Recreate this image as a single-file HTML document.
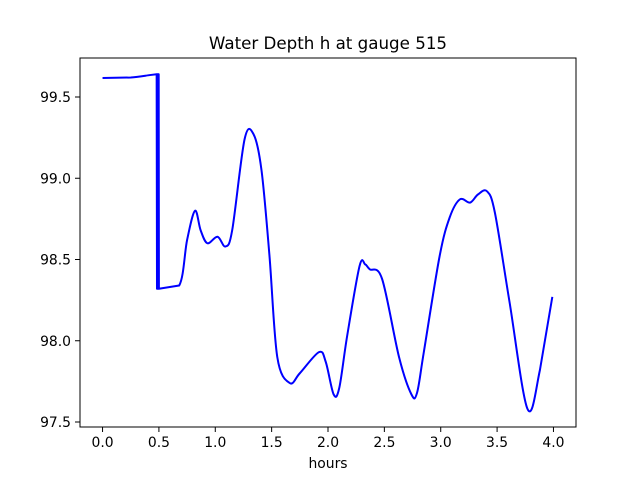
<!DOCTYPE html>
<html><head><meta charset="utf-8"><style>
body{margin:0;background:#fff}
svg{display:block;font-family:"DejaVu Sans","Liberation Sans",sans-serif}
</style></head><body>
<svg width="640" height="480" viewBox="0 0 640 480">
<rect width="640" height="480" fill="#fff"/>
<text x="328" y="49" text-anchor="middle" font-size="16.7">Water Depth h at gauge 515</text>
<g id="xt"></g>
<g id="yt"></g>
<path id="ln" fill="none" stroke="#0000ff" stroke-width="2" stroke-linejoin="round"/>
<rect x="80" y="58" width="496" height="369" fill="none" stroke="#000" stroke-width="1"/>
<text x="328" y="468" text-anchor="middle" font-size="13.9">hours</text>
</svg>
<script>
const hours=[0,0.25,0.42,0.48,0.483,0.486,0.489,0.492,0.495,0.498,0.5,0.68,0.75,0.82,0.87,0.93,1.02,1.09,1.15,1.26,1.34,1.41,1.48,1.55,1.66,1.75,1.92,1.98,2.05,2.10,2.17,2.28,2.33,2.37,2.48,2.63,2.74,2.79,2.85,2.99,3.08,3.17,3.26,3.33,3.41,3.48,3.61,3.77,3.88,3.99];
const depth=[99.617,99.62,99.635,99.64,98.32,99.64,98.32,99.64,98.32,99.64,98.32,98.34,98.62,98.80,98.68,98.60,98.64,98.58,98.68,99.24,99.27,99.05,98.53,97.90,97.74,97.80,97.93,97.87,97.67,97.71,98.03,98.46,98.47,98.44,98.38,97.90,97.67,97.68,97.93,98.52,98.76,98.87,98.85,98.90,98.92,98.79,98.24,97.58,97.82,98.27];
const xTicks=[0,0.5,1,1.5,2,2.5,3,3.5,4];
const yTicks=[97.5,98,98.5,99,99.5];
const X=v=>80+(v+0.2)/4.4*496;
const Y=v=>97+(99.5-v)*162.5;
const NS="http://www.w3.org/2000/svg";
const xt=document.getElementById('xt'),yt=document.getElementById('yt');
xTicks.forEach(t=>{
 const l=document.createElementNS(NS,'line');
 l.setAttribute('x1',X(t));l.setAttribute('x2',X(t));l.setAttribute('y1',427);l.setAttribute('y2',432);l.setAttribute('stroke','#000');
 
 
 xt.appendChild(l);
 const s=document.createElementNS(NS,'text');
 s.setAttribute('x',X(t));s.setAttribute('y',447);s.setAttribute('text-anchor','middle');s.setAttribute('font-size','13.9');
 s.textContent=t.toFixed(1);
 
 
 xt.appendChild(s);
});
yTicks.forEach(t=>{
 const l=document.createElementNS(NS,'line');
 l.setAttribute('x1',75);l.setAttribute('x2',80);l.setAttribute('y1',Y(t));l.setAttribute('y2',Y(t));l.setAttribute('stroke','#000');
 
 
 yt.appendChild(l);
 const s=document.createElementNS(NS,'text');
 s.setAttribute('x',71);s.setAttribute('y',Y(t)+5);s.setAttribute('text-anchor','end');s.setAttribute('font-size','13.9');
 s.textContent=t.toFixed(1);
 
 
 yt.appendChild(s);
});
const P=hours.map((h,i)=>[X(h),Y(depth[i])]);
let d='M'+P[0][0]+','+P[0][1];
for(let i=0;i<P.length-1;i++){
 const p0=P[Math.max(0,i-1)],p1=P[i],p2=P[i+1],p3=P[Math.min(P.length-1,i+2)];
 if(Math.abs(p2[0]-p1[0])<3){d+=' L'+p2[0]+','+p2[1];continue;}
 const k=(Math.abs(p1[0]-p0[0])<3||Math.abs(p3[0]-p2[0])<3)?0:1/6;
 const c1=[p1[0]+(p2[0]-p0[0])*k,p1[1]+(p2[1]-p0[1])*k];
 const c2=[p2[0]-(p3[0]-p1[0])*k,p2[1]-(p3[1]-p1[1])*k];
 d+=` C${c1[0]},${c1[1]} ${c2[0]},${c2[1]} ${p2[0]},${p2[1]}`;
}
document.getElementById('ln').setAttribute('d',d);
</script>
</body></html>
